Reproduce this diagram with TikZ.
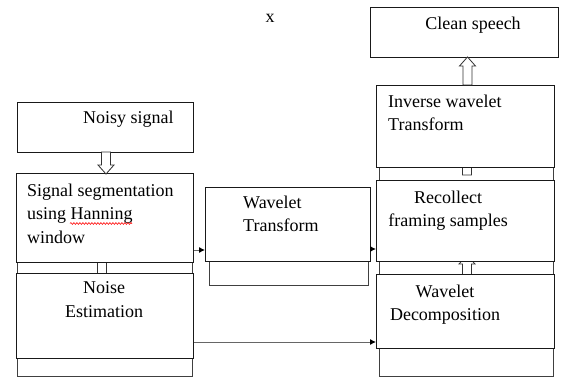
\documentclass[tikz,border=0pt]{standalone}
\usepackage{fontspec}
\setmainfont{Liberation Serif}
\usetikzlibrary{arrows.meta,decorations.pathmorphing}
\newcommand\myholarrow[3]{%
  \pgfmathsetmacro\hbase{#3-9*sign(#3-#2)}%
  \draw[hol] (#1-4.5,#2) -- (#1-4.5,\hbase) -- (#1-8,\hbase) -- (#1,#3) -- (#1+8,\hbase) -- (#1+4.5,\hbase) -- (#1+4.5,#2) -- cycle;}
\begin{document}
\begin{tikzpicture}[x=1pt,y=-1pt,
  box/.style={draw=black!90, line width=0.9pt, fill=white, anchor=north west, inner sep=0pt},
  frame/.style={draw=black!75, line width=0.9pt},
  txt/.style={font=\fontsize{18}{23.5}\selectfont, inner sep=0pt},
  hol/.style={draw=black!80, line width=0.8pt, fill=white},
  conn/.style={draw=black!60, line width=0.9pt, -{Latex[length=6pt,width=6pt,color=black]}}]
\useasboundingbox (0,0) rectangle (562,377);
% back frames
\draw[frame] (17,200) rectangle (192,275);
\draw[frame] (17,300) rectangle (192,376);
\draw[frame] (209,200) rectangle (368,285);
\draw[frame] (379,100) rectangle (553,180);
\draw[frame] (379,200) rectangle (553,274);
\draw[frame] (379,300) rectangle (553,376);
% partly hidden hollow arrows
\myholarrow{102}{258}{285}
\myholarrow{467}{175}{158}
\myholarrow{467}{285}{255}
% boxes
\node[box, minimum width=176pt, minimum height=50pt] (noisy) at (17,102) {};
\node[box, minimum width=177pt, minimum height=89pt] (seg) at (16,173) {};
\node[box, minimum width=177pt, minimum height=85pt] (noise) at (16,273) {};
\node[box, minimum width=165pt, minimum height=74pt] (wt) at (205,187) {};
\node[box, minimum width=188pt, minimum height=50pt] (clean) at (370,7) {};
\node[box, minimum width=178pt, minimum height=82pt] (inv) at (376,85) {};
\node[box, minimum width=178pt, minimum height=81pt] (rec) at (376,180) {};
\node[box, minimum width=178pt, minimum height=74pt] (dec) at (376,274) {};
% visible hollow arrows
\myholarrow{106}{152}{174}
\myholarrow{467.5}{85}{57}
% connectors
\coordinate (ya) at (0,250);
\coordinate (yb) at (0,249);
\coordinate (yc) at (0,342);
\draw[conn] (seg.east |- ya) -- (wt.west |- ya);
\draw[conn] (wt.east |- yb) -- (rec.west |- yb);
\draw[conn] (noise.east |- yc) -- (dec.west |- yc);
% texts
\node[txt, anchor=base] (xmark) at (270,23) {x};
\node[txt, anchor=base west] (tnoisy) at (83,124) {Noisy signal};
\node[txt, anchor=north west, align=left] (tseg) at (27,183.7) {Signal segmentation\\using Hanning\\window};
\draw[red, line width=0.6pt, decorate, decoration={snake, amplitude=0.9pt, segment length=3pt}] (70,223.5) -- (132,223.5);
\node[txt, anchor=north, align=center] (tnoise) at (104,281.7) {Noise\\Estimation};
\node[txt, anchor=north west, align=left] (twt) at (243,195.7) {Wavelet\\Transform};
\node[txt, anchor=base] (tclean) at (473,30) {Clean speech};
\node[txt, anchor=north west, align=left] (tinv) at (388,94.7) {Inverse wavelet\\Transform};
\node[txt, anchor=north, align=center] (trec) at (448,190.7) {Recollect\\framing samples};
\node[txt, anchor=north, align=center] (tdec) at (445,284.7) {Wavelet\\Decomposition};
\end{tikzpicture}
\end{document}
